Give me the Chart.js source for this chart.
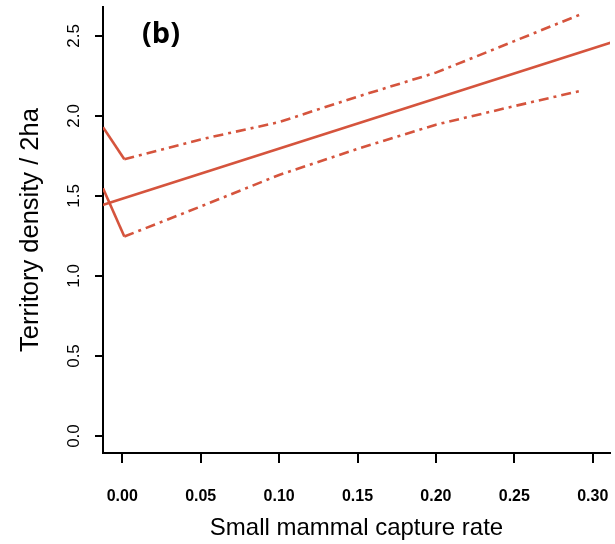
<!DOCTYPE html>
<html>
<head>
<meta charset="utf-8">
<script src="https://cdn.jsdelivr.net/npm/chart.js@4.4.1/dist/chart.umd.min.js"></script>
<style>
  html, body { margin: 0; padding: 0; background: #ffffff; }
  #wrap { width: 615px; height: 544px; position: relative; }
</style>
</head>
<body>
<div id="wrap"><canvas id="c"></canvas></div>
<script>
// ---- data ----
const fitX = [-0.02, 0.33];
const fitY = [1.420, 2.516];

const upperX = [-0.0123, 0.0013, 0.05, 0.10, 0.15, 0.20, 0.25, 0.293];
const upperY = [1.929, 1.729, 1.853, 1.961, 2.12, 2.27, 2.467, 2.637];

const lowerX = [-0.0123, 0.0013, 0.05, 0.10, 0.15, 0.20, 0.25, 0.293];
const lowerY = [1.548, 1.246, 1.434, 1.631, 1.794, 1.945, 2.061, 2.158];

const xTickValues = [0.00, 0.05, 0.10, 0.15, 0.20, 0.25, 0.30];
const xTickLabels = ['0.00', '0.05', '0.10', '0.15', '0.20', '0.25', '0.30'];
const yTickValues = [0.0, 0.5, 1.0, 1.5, 2.0, 2.5];
const yTickLabels = ['0.0', '0.5', '1.0', '1.5', '2.0', '2.5'];

const xTitle = 'Small mammal capture rate';
const yTitle = 'Territory density / 2ha';
const panelLabel = '(b)';

// ---- styling ----
const lineColor = '#d5543d';
const dashDot = [10, 5, 3, 5];
const fam = '"Liberation Sans", Arial, sans-serif';

function pts(xs, ys) { return xs.map((x, i) => ({ x: x, y: ys[i] })); }

const panelPlugin = {
  id: 'panelLabel',
  afterDraw(chart) {
    const ctx = chart.ctx;
    ctx.save();
    ctx.fillStyle = '#000';
    ctx.font = 'bold 29px "Open Sans"';
    ctx.textAlign = 'center';
    ctx.textBaseline = 'middle';
    ctx.fillText(panelLabel, 161, 35);
    ctx.restore();
  }
};

new Chart(document.getElementById('c'), {
  type: 'scatter',
  data: {
    datasets: [
      {
        data: pts(fitX, fitY),
        showLine: true, borderColor: lineColor, borderWidth: 2.6,
        pointRadius: 0, fill: false
      },
      {
        data: pts(upperX, upperY),
        showLine: true, borderColor: lineColor, borderWidth: 2.6,
        pointRadius: 0, fill: false,
        segment: { borderDash: c => (c.p0DataIndex === 0 ? [] : dashDot) }
      },
      {
        data: pts(lowerX, lowerY),
        showLine: true, borderColor: lineColor, borderWidth: 2.6,
        pointRadius: 0, fill: false,
        segment: { borderDash: c => (c.p0DataIndex === 0 ? [] : dashDot) }
      }
    ]
  },
  options: {
    responsive: true,
    maintainAspectRatio: false,
    devicePixelRatio: 1,
    animation: false,
    events: [],
    layout: { padding: { left: 0, right: 5, top: 7, bottom: 0 } },
    plugins: { legend: { display: false }, tooltip: { enabled: false } },
    scales: {
      x: {
        type: 'linear',
        min: -0.0123, max: 0.311,
        afterBuildTicks: s => { s.ticks = xTickValues.map(v => ({ value: v })); },
        afterFit: s => { s.height = 91; s.paddingLeft = 0; s.paddingRight = 0; },
        border: { display: true, color: '#000', width: 2 },
        grid: { display: true, drawOnChartArea: false, drawTicks: true, tickLength: 10, color: '#000', lineWidth: 2 },
        ticks: {
          autoSkip: false, maxRotation: 0, minRotation: 0, padding: 24,
          color: '#000',
          font: { family: fam, size: 16, weight: 'bold' },
          callback: (v, i) => xTickLabels[i]
        },
        title: {
          display: true, text: xTitle, color: '#000',
          font: { family: fam, size: 24, lineHeight: 1 },
          padding: { top: 0, bottom: 4 }
        }
      },
      y: {
        type: 'linear',
        min: -0.106, max: 2.68,
        afterBuildTicks: s => { s.ticks = yTickValues.map(v => ({ value: v })); },
        afterFit: s => { s.width = 103; s.paddingTop = 0; s.paddingBottom = 0; },
        border: { display: true, color: '#000', width: 2 },
        grid: { display: true, drawOnChartArea: false, drawTicks: true, tickLength: 8, color: '#000', lineWidth: 2 },
        ticks: {
          autoSkip: false, minRotation: 90, maxRotation: 90, crossAlign: 'center', padding: 9,
          color: '#000',
          font: { family: fam, size: 17 },
          callback: (v, i) => yTickLabels[i]
        },
        title: {
          display: true, text: yTitle, color: '#000',
          font: { family: fam, size: 25.5, lineHeight: 1 },
          padding: { top: 18, bottom: 0 }
        }
      }
    }
  },
  plugins: [panelPlugin]
});
</script>
</body>
</html>
